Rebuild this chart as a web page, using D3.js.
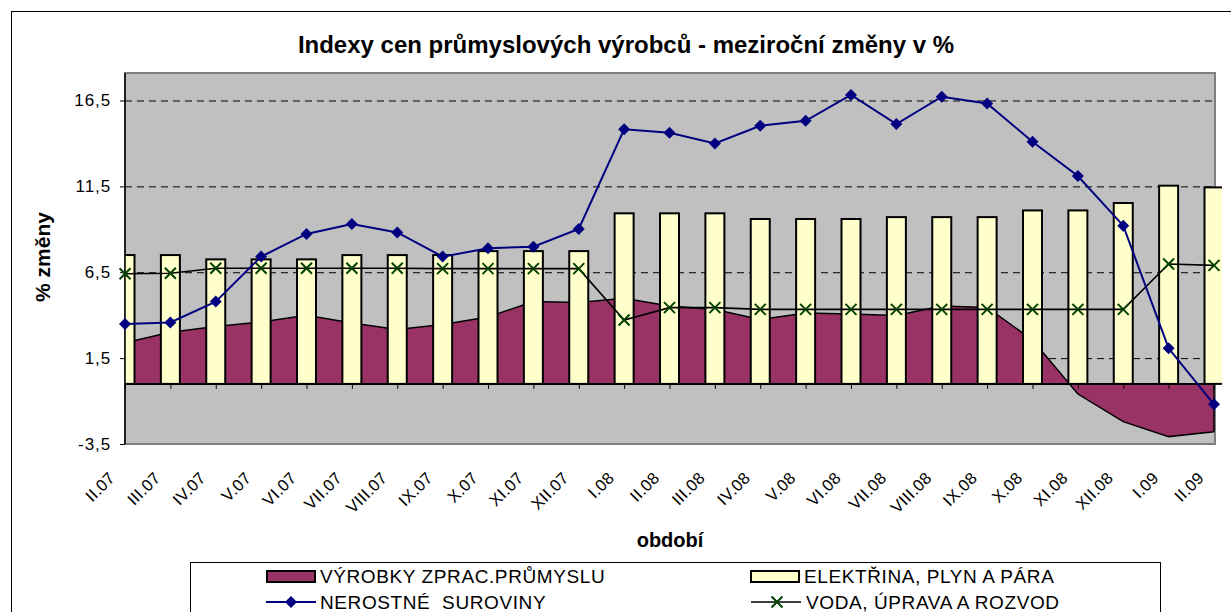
<!DOCTYPE html>
<html><head><meta charset="utf-8">
<script src="https://cdn.jsdelivr.net/npm/d3@7"></script>
<style>
html,body{margin:0;padding:0;background:#fff;}
svg{display:block;font-family:"Liberation Sans",Arial,sans-serif;}
</style></head>
<body>
<svg id="c" width="1231" height="612"></svg>
<script>
const categories = ["II.07","III.07","IV.07","V.07","VI.07","VII.07","VIII.07","IX.07","X.07","XI.07","XII.07",
  "I.08","II.08","III.08","IV.08","V.08","VI.08","VII.08","VIII.08","IX.08","X.08","XI.08","XII.08","I.09","II.09"];
const manufacturing = [2.4,3.0,3.34,3.6,4.0,3.55,3.17,3.46,3.89,4.8,4.74,4.98,4.53,4.33,3.75,4.12,4.07,3.98,4.53,4.45,2.55,-0.59,-2.2,-3.07,-2.78];
const electricity = [7.5,7.5,7.25,7.25,7.25,7.5,7.5,7.5,7.73,7.73,7.73,9.93,9.93,9.93,9.6,9.6,9.6,9.71,9.71,9.71,10.1,10.1,10.53,11.54,11.44];
const minerals = [3.49,3.58,4.79,7.41,8.73,9.31,8.82,7.41,7.89,7.99,9.02,14.82,14.62,14.0,15.03,15.32,16.82,15.13,16.72,16.33,14.1,12.1,9.21,2.07,-1.19];
const water = [6.41,6.44,6.73,6.73,6.73,6.73,6.73,6.71,6.71,6.71,6.71,3.72,4.44,4.44,4.34,4.34,4.34,4.34,4.34,4.34,4.34,4.34,4.34,6.98,6.9];
const yTicks = [-3.5,1.5,6.5,11.5,16.5];
const seriesNames = ["VÝROBKY ZPRAC.PRŮMYSLU","ELEKTŘINA, PLYN A PÁRA","NEROSTNÉ  SUROVINY","VODA, ÚPRAVA A ROZVOD"];

const svg = d3.select("#c");
const L = 125, R = 1215, T = 73, B = 444;
const x = d3.scalePoint().domain(categories).range([L, 1214]);
const y = d3.scaleLinear().domain([-3.5, 18.1]).range([B, T]);
const fmt = d3.formatLocale({decimal:",", thousands:" ", grouping:[3], currency:["",""], minus:"-"}).format(".1f");

// outer border
svg.append("rect").attr("x",11.5).attr("y",11.5).attr("width",1240).attr("height",640)
  .attr("fill","#fff").attr("stroke","#000").attr("stroke-width",1);

// title
svg.append("text").attr("x",626).attr("y",53).attr("text-anchor","middle")
  .attr("font-weight","bold").attr("font-size",24).text("Indexy cen průmyslových výrobců - meziroční změny v %");

// plot bg
svg.append("rect").attr("x",L).attr("y",T).attr("width",R-L).attr("height",B-T)
  .attr("fill","#C0C0C0").attr("stroke","#808080").attr("stroke-width",2);

// gridlines
svg.append("g").selectAll("line").data(yTicks.filter(d=>d>-3.5)).join("line")
  .attr("x1",L).attr("x2",R).attr("y1",d=>y(d)+0.5).attr("y2",d=>y(d)+0.5)
  .attr("stroke","#000").attr("stroke-width",1).attr("stroke-dasharray","7,5");

const clip = svg.append("clipPath").attr("id","pc").append("rect")
  .attr("x",L).attr("y",T-5).attr("width",1222-L).attr("height",B-T+5);

// area
const area = d3.area().x((d,i)=>x(categories[i])).y0(y(0)).y1(d=>y(d));
const line = d3.line().x((d,i)=>x(categories[i])).y(d=>y(d));
svg.append("path").datum(manufacturing).attr("d",area).attr("fill","#993366");
svg.append("path").datum(manufacturing).attr("d",line).attr("fill","none").attr("stroke","#000").attr("stroke-width",1.5);
svg.append("line").attr("x1",x(categories[24])).attr("x2",x(categories[24]))
  .attr("y1",y(0)).attr("y2",y(manufacturing[24])).attr("stroke","#000").attr("stroke-width",1.5);

// bars
const bw = 19;
svg.append("g").attr("clip-path","url(#pc)").selectAll("rect").data(electricity).join("rect")
  .attr("x",(d,i)=>x(categories[i])-bw/2).attr("width",bw)
  .attr("y",d=>y(d)).attr("height",d=>y(0)-y(d))
  .attr("fill","#FFFFCC").attr("stroke","#000").attr("stroke-width",2);

// x axis at zero
const xAxis = svg.append("g").attr("transform",`translate(0,${y(0)})`)
  .call(d3.axisBottom(x).tickSize(5).tickFormat(""));
xAxis.select(".domain").attr("d",`M${L},0H${R}`).attr("stroke","#000").attr("stroke-width",2);
xAxis.selectAll(".tick line").attr("stroke","#000").attr("stroke-width",1);

// y axis
const yAxis = svg.append("g").attr("transform",`translate(${L},0)`)
  .call(d3.axisLeft(y).tickValues(yTicks).tickSize(5).tickFormat(fmt));
yAxis.select(".domain").attr("d",`M0,${T}V${B}`).attr("stroke","#000").attr("stroke-width",1.5);
yAxis.selectAll(".tick line").attr("stroke","#000");
yAxis.selectAll(".tick text").attr("font-size",17).attr("letter-spacing",0.9).attr("x",-14).attr("fill","#000")
  .attr("font-family","'Liberation Sans',Arial,sans-serif");

// x labels
svg.append("g").selectAll("text").data(categories).join("text")
  .attr("transform",d=>`translate(${x(d)-9},${479}) rotate(-45)`)
  .attr("text-anchor","end").attr("font-size",16.5).attr("letter-spacing",0.3).text(d=>d);

// water line
svg.append("path").datum(water).attr("d",line).attr("fill","none").attr("stroke","#000").attr("stroke-width",1.6);
const xm = 5.5;
svg.append("g").selectAll("path").data(water).join("path")
  .attr("d",(d,i)=>{const cx=x(categories[i]), cy=y(d); return `M${cx-xm},${cy-xm}L${cx+xm},${cy+xm}M${cx-xm},${cy+xm}L${cx+xm},${cy-xm}`;})
  .attr("stroke","#004000").attr("stroke-width",2).attr("fill","none");

// minerals line
svg.append("path").datum(minerals).attr("d",line).attr("fill","none").attr("stroke","#000080").attr("stroke-width",2);
const dm = 6;
svg.append("g").selectAll("path").data(minerals).join("path")
  .attr("d",(d,i)=>{const cx=x(categories[i]), cy=y(d); return `M${cx},${cy-dm}L${cx+dm},${cy}L${cx},${cy+dm}L${cx-dm},${cy}Z`;})
  .attr("fill","#000080");

// axis titles
svg.append("text").attr("transform","translate(50,257) rotate(-90)").attr("text-anchor","middle")
  .attr("font-weight","bold").attr("font-size",21).text("% změny");
svg.append("text").attr("x",670).attr("y",547).attr("text-anchor","middle")
  .attr("font-weight","bold").attr("font-size",20).text("období");

// legend
const lg = svg.append("g");
lg.append("rect").attr("x",190.5).attr("y",562.5).attr("width",970).attr("height",80)
  .attr("fill","#fff").attr("stroke","#000").attr("stroke-width",1);
const lfs = 19, lls = 0.6;
lg.append("rect").attr("x",267).attr("y",571).attr("width",48).attr("height",11)
  .attr("fill","#993366").attr("stroke","#000").attr("stroke-width",2);
lg.append("text").attr("x",320).attr("y",583).attr("font-size",lfs).attr("letter-spacing",lls).text(seriesNames[0]);
lg.append("rect").attr("x",751).attr("y",571).attr("width",48).attr("height",11)
  .attr("fill","#FFFFCC").attr("stroke","#000").attr("stroke-width",2);
lg.append("text").attr("x",804).attr("y",583).attr("font-size",lfs).attr("letter-spacing",lls).text(seriesNames[1]);
lg.append("line").attr("x1",266).attr("x2",316).attr("y1",602).attr("y2",602).attr("stroke","#000080").attr("stroke-width",2);
lg.append("path").attr("d",`M291,${602-dm}L${291+dm},602L291,${602+dm}L${291-dm},602Z`).attr("fill","#000080");
lg.append("text").attr("x",320).attr("y",609).attr("font-size",lfs).attr("letter-spacing",lls).style("white-space","pre").text(seriesNames[2]);
lg.append("line").attr("x1",751).attr("x2",801).attr("y1",602).attr("y2",602).attr("stroke","#000").attr("stroke-width",1.5);
lg.append("path").attr("d",`M${777-xm},${602-xm}L${777+xm},${602+xm}M${777-xm},${602+xm}L${777+xm},${602-xm}`)
  .attr("stroke","#004000").attr("stroke-width",2);
lg.append("text").attr("x",806).attr("y",609).attr("font-size",lfs).attr("letter-spacing",lls).text(seriesNames[3]);
</script>
</body></html>
